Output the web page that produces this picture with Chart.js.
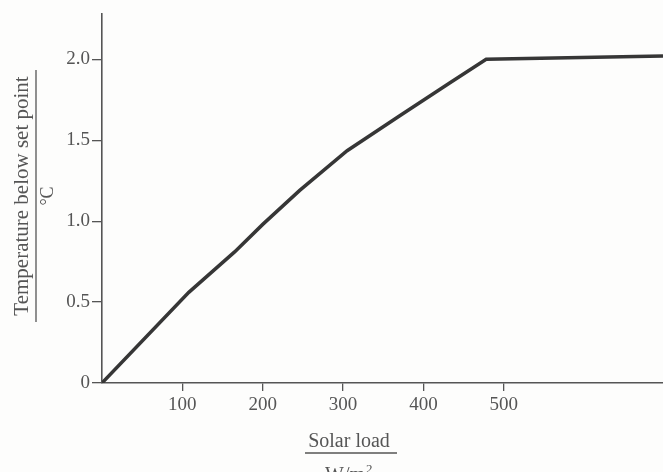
<!DOCTYPE html>
<html>
<head>
<meta charset="utf-8">
<script src="https://cdn.jsdelivr.net/npm/chart.js@4"></script>
<style>
  html, body { margin: 0; padding: 0; background: #fdfdfc; }
</style>
</head>
<body>
<canvas id="solar-chart" width="663" height="472"></canvas>
<script>
// values
var solarLoad = [0, 108, 165, 200, 246, 305, 370, 433, 478, 698];
var tempBelow = [0, 0.56, 0.81, 0.98, 1.19, 1.435, 1.65, 1.855, 2.0, 2.02];
var xTicks = [100, 200, 300, 400, 500];
var yTicks = [0, 0.5, 1.0, 1.5, 2.0];
var yTitle = "Temperature below set point";
var yUnit = "°C";
var xTitle = "Solar load";
var xUnit = "W/m";

var ink = '#555';
var serif = '"Liberation Serif", "DejaVu Serif", serif';

// fraction-style axis titles like the book figure
var titles = {
  id: 'titles',
  afterDraw: function(chart) {
    var ctx = chart.ctx;
    ctx.save();
    ctx.fillStyle = ink;
    ctx.strokeStyle = ink;
    ctx.lineWidth = 1.3;

    // y title, rotated
    ctx.save();
    ctx.translate(0, 196);
    ctx.rotate(-Math.PI / 2);
    ctx.textAlign = 'center';
    ctx.font = '21px ' + serif;
    ctx.fillText(yTitle, 0, 28);
    ctx.beginPath();
    ctx.moveTo(-126, 36);
    ctx.lineTo(126, 36);
    ctx.stroke();
    ctx.font = '18px ' + serif;
    ctx.fillText(yUnit, 0, 53);
    ctx.restore();

    // x title
    ctx.textAlign = 'center';
    ctx.font = '20px ' + serif;
    ctx.fillText(xTitle, 349, 447);
    ctx.beginPath();
    ctx.moveTo(305, 453);
    ctx.lineTo(397, 453);
    ctx.stroke();
    ctx.fillText(xUnit, 345, 481);
    ctx.font = '13px ' + serif;
    ctx.textAlign = 'left';
    ctx.fillText('2', 366, 473);
    ctx.restore();
  }
};

new Chart(document.getElementById('solar-chart'), {
  type: 'scatter',
  data: {
    datasets: [{
      data: solarLoad.map(function(x, i) { return {x: x, y: tempBelow[i]}; }),
      showLine: true,
      borderColor: '#363636',
      borderWidth: 3.5,
      pointRadius: 0,
      tension: 0
    }]
  },
  options: {
    responsive: false,
    animation: false,
    layout: { padding: { top: 14, right: 0, left: 0, bottom: 0 } },
    plugins: { legend: { display: false }, tooltip: { enabled: false } },
    scales: {
      x: {
        type: 'linear',
        min: 0,
        max: 698,
        afterFit: function(s) { s.height = 89; },
        afterBuildTicks: function(s) { s.ticks = xTicks.map(function(v) { return {value: v}; }); },
        border: { color: ink, width: 1.6 },
        grid: { drawOnChartArea: false, tickLength: 8, color: ink, lineWidth: 1.3 },
        ticks: {
          padding: 3,
          color: ink,
          font: { family: serif, size: 19 },
          callback: function(v) { return String(v); }
        }
      },
      y: {
        min: 0,
        max: 2.28,
        afterFit: function(s) { s.width = 102; },
        afterBuildTicks: function(s) { s.ticks = yTicks.map(function(v) { return {value: v}; }); },
        border: { color: ink, width: 1.6 },
        grid: { drawOnChartArea: false, tickLength: 10, color: ink, lineWidth: 1.3 },
        ticks: {
          padding: 2,
          color: ink,
          font: { family: serif, size: 19 },
          callback: function(v) { return v === 0 ? '0' : v.toFixed(1); }
        }
      }
    }
  },
  plugins: [titles]
});
</script>
</body>
</html>
